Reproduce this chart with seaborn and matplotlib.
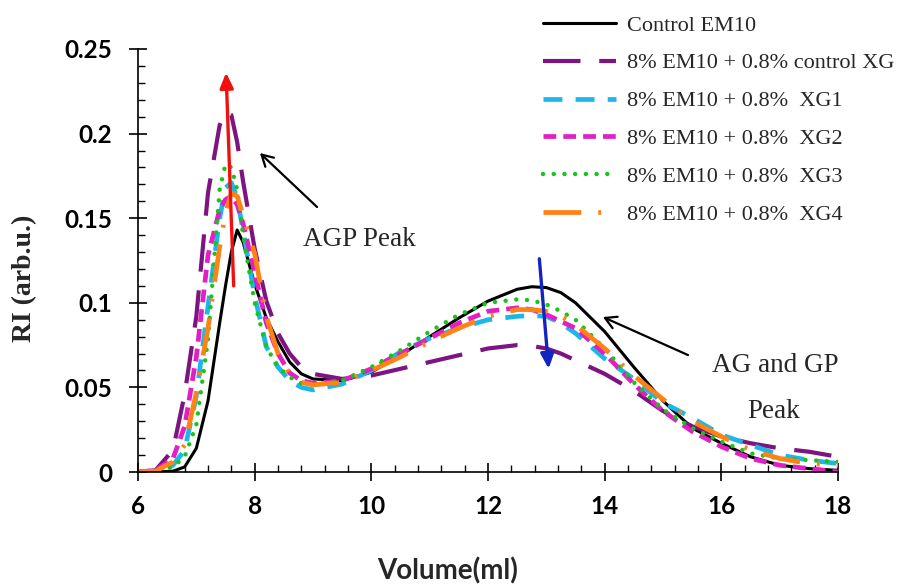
"""Size-exclusion RI traces of EM10 with xanthan gum variants."""

import matplotlib
matplotlib.use("Agg")
import matplotlib.pyplot as plt
from matplotlib.ticker import MultipleLocator, FuncFormatter
import seaborn as sns

sns.set_style("ticks")
plt.rcParams['font.family'] = ['Lato', 'DejaVu Sans']

# Data
volume = [6.0, 6.3, 6.6, 6.8, 7.0, 7.2, 7.4, 7.5, 7.6, 7.7, 7.8, 8.0, 8.2, 8.4,
          8.6, 8.8, 9.0, 9.5, 10.0, 10.5, 11.0, 11.5, 12.0, 12.5, 12.75, 13.0,
          13.25, 13.5, 14.0, 14.5, 15.0, 15.5, 16.0, 16.5, 17.0, 17.5, 18.0]

control_em10 = [0, 0, 0.0005, 0.003, 0.014, 0.042, 0.088, 0.110, 0.130, 0.143,
                0.136, 0.111, 0.091, 0.077, 0.065, 0.058, 0.055, 0.054, 0.059,
                0.069, 0.080, 0.091, 0.101, 0.108, 0.1095, 0.109, 0.106, 0.100,
                0.083, 0.062, 0.042, 0.026, 0.017, 0.009, 0.004, 0.002, 0.001]
control_xg = [0, 0.001, 0.013, 0.046, 0.092, 0.165, 0.205, 0.213, 0.211, 0.195,
              0.172, 0.132, 0.101, 0.082, 0.070, 0.062, 0.058, 0.055, 0.057,
              0.061, 0.065, 0.069, 0.073, 0.075, 0.0745, 0.073, 0.070, 0.066,
              0.058, 0.048, 0.036, 0.027, 0.021, 0.017, 0.014, 0.012, 0.009]
xg1 = [0, 0.0005, 0.004, 0.013, 0.045, 0.098, 0.150, 0.168, 0.171, 0.162,
       0.143, 0.104, 0.074, 0.062, 0.054, 0.050, 0.0485, 0.052, 0.060, 0.071,
       0.079, 0.085, 0.090, 0.092, 0.0925, 0.092, 0.088, 0.082, 0.067, 0.055,
       0.041, 0.032, 0.022, 0.016, 0.010, 0.007, 0.005]
xg2 = [0, 0.001, 0.008, 0.027, 0.068, 0.128, 0.155, 0.161, 0.163, 0.158,
       0.147, 0.118, 0.088, 0.070, 0.0585, 0.054, 0.0525, 0.054, 0.061, 0.070,
       0.079, 0.088, 0.095, 0.097, 0.096, 0.093, 0.089, 0.085, 0.070, 0.052,
       0.036, 0.024, 0.015, 0.008, 0.004, 0.002, 0.0]
xg3 = [0, 0.0005, 0.003, 0.009, 0.028, 0.078, 0.167, 0.182, 0.180, 0.167,
       0.140, 0.100, 0.074, 0.062, 0.056, 0.0525, 0.0515, 0.054, 0.062, 0.072,
       0.083, 0.093, 0.100, 0.102, 0.1015, 0.099, 0.095, 0.090, 0.073, 0.053,
       0.037, 0.026, 0.018, 0.011, 0.008, 0.007, 0.006]
xg4 = [0, 0.0005, 0.006, 0.016, 0.047, 0.085, 0.133, 0.153, 0.165, 0.163,
       0.152, 0.129, 0.092, 0.070, 0.058, 0.053, 0.0515, 0.053, 0.060, 0.068,
       0.077, 0.085, 0.092, 0.096, 0.096, 0.095, 0.092, 0.087, 0.073, 0.057,
       0.043, 0.030, 0.021, 0.013, 0.008, 0.005, 0.004]

labels = ['Control EM10', '8% EM10 + 0.8% control XG', '8% EM10 + 0.8%  XG1',
          '8% EM10 + 0.8%  XG2', '8% EM10 + 0.8%  XG3', '8% EM10 + 0.8%  XG4']
series = [control_em10, control_xg, xg1, xg2, xg3, xg4]

# color, linewidth, dash pattern (None = solid)
styles = [
    ('black', 2.2, None),
    ('#7d1480', 3.0, (9, 4.5)),
    ('#1cb7e8', 3.4, (4, 2.8)),
    ('#e020c4', 3.4, (2.7, 1.5)),
    ('#19c419', 3.2, (0.01, 2.4)),
    ('#ff8214', 3.4, (8, 3.6, 0.6, 3.6)),
]

fig = plt.figure(figsize=(9.11, 5.85), dpi=100)
ax = fig.add_axes([138 / 911, 1 - 472 / 585, 700 / 911, 423 / 585])

for lab, vals, (col, lw, dash) in zip(labels, series, styles):
    sns.lineplot(x=volume, y=vals, ax=ax, color=col, lw=lw, label=lab,
                 sort=False, legend=False)
    line = ax.lines[-1]
    if dash is not None:
        line.set_dashes(dash)
    if lab.endswith('XG3'):
        line.set_dash_capstyle('round')

ax.set_xlim(6, 18)
ax.set_ylim(0, 0.25)
ax.xaxis.set_major_locator(MultipleLocator(2))
ax.xaxis.set_minor_locator(MultipleLocator(0.4))
ax.yaxis.set_major_locator(MultipleLocator(0.05))
ax.yaxis.set_minor_locator(MultipleLocator(0.01))
ax.yaxis.set_major_formatter(FuncFormatter(lambda v, p: f'{v:g}'))

sns.despine(ax=ax)
for s in ['left', 'bottom']:
    ax.spines[s].set_linewidth(1.2)
    ax.spines[s].set_color('black')

ax.tick_params(which='major', direction='inout', length=13, width=1.2,
               labelsize=17.5, colors='black')
ax.tick_params(axis='x', which='major', pad=10)
ax.tick_params(axis='y', which='major', pad=12)
ax.tick_params(which='minor', direction='in', length=5, width=1.0, colors='black')
for t in ax.get_xticklabels() + ax.get_yticklabels():
    t.set_fontweight('bold')

ax.set_xlabel('')
ax.set_ylabel('')
fig.text(448 / 911, 1 - 571 / 585, 'Volume(ml)', ha='center', va='center',
         fontsize=20, fontweight='bold')
fig.text(25 / 911, 1 - 278 / 585, 'RI (arb.u.)', ha='center', va='center',
         rotation=90, fontsize=20, fontweight='bold',
         family=['Liberation Serif', 'DejaVu Serif'])

leg = ax.legend(loc='upper left', bbox_to_anchor=(543 / 911, 1 - 15 / 585),
                bbox_transform=fig.transFigure, frameon=False, borderpad=0,
                borderaxespad=0, handlelength=3.3, handletextpad=0.5,
                labelspacing=0.78,
                prop={'family': 'Liberation Serif', 'size': 16, 'weight': 'normal'})

# annotations
serif = ['Liberation Serif', 'DejaVu Serif']
ax.annotate('', xy=(7.51, 0.236), xytext=(7.64, 0.110),
            arrowprops=dict(arrowstyle='-|>,head_length=0.9,head_width=0.4',
                            color='#f01010', lw=2.4, shrinkA=0, shrinkB=0))
ax.annotate('', xy=(13.04, 0.061), xytext=(12.88, 0.126),
            arrowprops=dict(arrowstyle='-|>,head_length=0.9,head_width=0.4',
                            color='#1424c0', lw=2.4, shrinkA=0, shrinkB=0))
ax.annotate('', xy=(8.09, 0.1885), xytext=(9.07, 0.1566),
            arrowprops=dict(arrowstyle='->,head_length=0.8,head_width=0.45',
                            color='black', lw=1.6, shrinkA=0, shrinkB=0))
ax.annotate('', xy=(13.97, 0.0916), xytext=(15.43, 0.0691),
            arrowprops=dict(arrowstyle='->,head_length=0.8,head_width=0.45',
                            color='black', lw=1.6, shrinkA=0, shrinkB=0))
fig.text(303 / 911, 1 - 240 / 585, 'AGP Peak', ha='left', va='center',
         fontsize=19.5, family=serif)
fig.text(712 / 911, 1 - 365 / 585, 'AG and GP', ha='left', va='center',
         fontsize=19.5, family=serif)
fig.text(747 / 911, 1 - 412 / 585, 'Peak', ha='left', va='center',
         fontsize=19.5, family=serif)

fig.savefig('out.png', dpi=100)
